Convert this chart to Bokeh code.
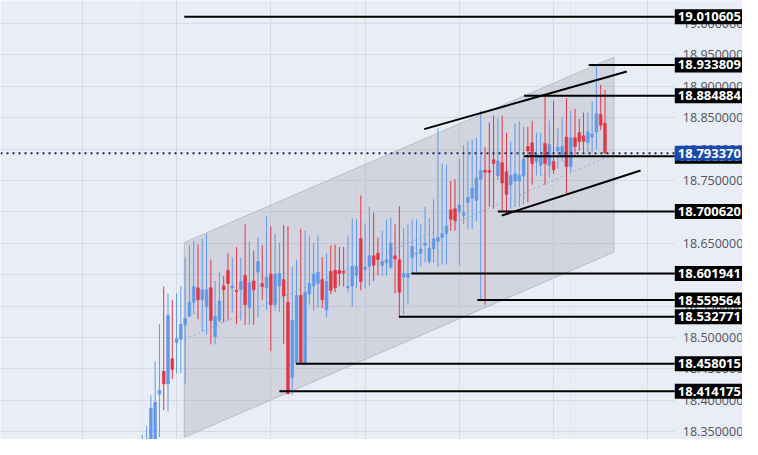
from bokeh.plotting import figure
from bokeh.models import (ColumnDataSource, Label, FixedTicker, Range1d, Grid, BoxAnnotation)
from bokeh.core.properties import value
from bokeh.embed import file_html
from bokeh.resources import INLINE

# ---- candle data (index = bar number) ----
opens = [18.318, 18.310, 18.321, 18.333, 18.410, 18.446, 18.426, 18.466, 18.492, 18.497,
         18.520, 18.534, 18.556, 18.579, 18.560, 18.549, 18.579, 18.501, 18.527, 18.582,
         18.607, 18.579, 18.575, 18.576, 18.599, 18.547, 18.590, 18.604, 18.586, 18.579,
         18.601, 18.552, 18.582, 18.592, 18.556, 18.436, 18.459, 18.567, 18.458, 18.569,
         18.582, 18.586, 18.592, 18.544, 18.605, 18.607, 18.607, 18.605, 18.579, 18.582,
         18.599, 18.657, 18.608, 18.613, 18.630, 18.634, 18.615, 18.619, 18.612, 18.630,
         18.624, 18.596, 18.596, 18.627, 18.633, 18.634, 18.647, 18.621, 18.641, 18.653,
         18.659, 18.665, 18.703, 18.705, 18.700, 18.694, 18.715, 18.722, 18.718, 18.752,
         18.766, 18.766, 18.783, 18.758, 18.778, 18.764, 18.743, 18.749, 18.749, 18.757,
         18.804, 18.810, 18.780, 18.774, 18.809, 18.774, 18.780, 18.797, 18.789, 18.819,
         18.772, 18.818, 18.826, 18.821, 18.810, 18.819, 18.827, 18.855, 18.841]
highs = [18.345, 18.359, 18.408, 18.462, 18.521, 18.581, 18.570, 18.560, 18.570, 18.582,
         18.627, 18.647, 18.654, 18.648, 18.657, 18.665, 18.624, 18.590, 18.604, 18.598,
         18.634, 18.627, 18.644, 18.627, 18.680, 18.653, 18.638, 18.659, 18.647, 18.693,
         18.677, 18.665, 18.651, 18.679, 18.677, 18.612, 18.624, 18.673, 18.670, 18.662,
         18.651, 18.662, 18.628, 18.634, 18.647, 18.648, 18.644, 18.644, 18.662, 18.690,
         18.688, 18.726, 18.682, 18.708, 18.699, 18.659, 18.670, 18.688, 18.691, 18.680,
         18.709, 18.674, 18.680, 18.688, 18.688, 18.680, 18.708, 18.690, 18.720, 18.833,
         18.777, 18.775, 18.749, 18.752, 18.784, 18.806, 18.813, 18.815, 18.818, 18.861,
         18.803, 18.842, 18.853, 18.850, 18.853, 18.826, 18.812, 18.841, 18.844, 18.835,
         18.835, 18.845, 18.826, 18.826, 18.885, 18.845, 18.877, 18.833, 18.850, 18.881,
         18.861, 18.864, 18.848, 18.858, 18.858, 18.876, 18.934, 18.902, 18.894]
lows = [18.303, 18.295, 18.315, 18.321, 18.341, 18.384, 18.382, 18.434, 18.443, 18.443,
        18.425, 18.532, 18.537, 18.529, 18.509, 18.504, 18.489, 18.489, 18.524, 18.524,
        18.527, 18.540, 18.521, 18.527, 18.520, 18.520, 18.520, 18.532, 18.560, 18.544,
        18.478, 18.543, 18.540, 18.489, 18.410, 18.408, 18.456, 18.458, 18.456, 18.552,
        18.543, 18.547, 18.547, 18.532, 18.569, 18.572, 18.582, 18.581, 18.572, 18.549,
        18.578, 18.575, 18.578, 18.582, 18.590, 18.599, 18.598, 18.598, 18.608, 18.570,
        18.532, 18.537, 18.552, 18.601, 18.601, 18.613, 18.619, 18.616, 18.619, 18.612,
        18.616, 18.616, 18.670, 18.670, 18.615, 18.680, 18.673, 18.673, 18.685, 18.558,
        18.552, 18.708, 18.705, 18.751, 18.700, 18.696, 18.705, 18.708, 18.708, 18.712,
        18.715, 18.743, 18.758, 18.757, 18.743, 18.754, 18.761, 18.769, 18.780, 18.728,
        18.764, 18.787, 18.797, 18.795, 18.795, 18.795, 18.800, 18.830, 18.793]
closes = [18.336, 18.333, 18.387, 18.397, 18.416, 18.426, 18.535, 18.449, 18.498, 18.521,
          18.530, 18.556, 18.581, 18.560, 18.576, 18.576, 18.527, 18.534, 18.558, 18.576,
          18.586, 18.582, 18.573, 18.589, 18.552, 18.587, 18.576, 18.621, 18.581, 18.596,
          18.552, 18.601, 18.602, 18.566, 18.410, 18.527, 18.567, 18.459, 18.572, 18.586,
          18.601, 18.604, 18.560, 18.589, 18.575, 18.579, 18.602, 18.603, 18.581, 18.613,
          18.613, 18.589, 18.612, 18.630, 18.615, 18.624, 18.621, 18.624, 18.650, 18.625,
          18.572, 18.602, 18.602, 18.645, 18.634, 18.641, 18.650, 18.642, 18.657, 18.659,
          18.665, 18.677, 18.688, 18.686, 18.711, 18.699, 18.723, 18.738, 18.754, 18.766,
          18.763, 18.763, 18.777, 18.781, 18.746, 18.728, 18.758, 18.761, 18.758, 18.784,
          18.797, 18.777, 18.792, 18.789, 18.777, 18.807, 18.767, 18.803, 18.804, 18.772,
          18.818, 18.804, 18.812, 18.812, 18.827, 18.824, 18.856, 18.838, 18.79337]

# ---- horizontal levels: price and first bar index ----
level_prices = [19.010605, 18.933809, 18.884884, 18.7885, 18.700620, 18.601941,
                18.559564, 18.532771, 18.458015, 18.414175]
level_start = [9.8, 104.2, 89.1, 89.1, 83.0, 62.8, 78.2, 59.9, 35.9, 32.0]
last_price = 18.793370

# ---- trend lines (bar, price) ----
upper_trend_x = [65.8, 113.1]
upper_trend_y = [18.8317, 18.9234]
lower_trend_x = [83.9, 116.3]
lower_trend_y = [18.6940, 18.7659]

# ---- regression channel ----
chan_x = [9.8, 110.1, 110.1, 9.8]
chan_y = [18.6512, 18.9463, 18.6359, 18.3410]
mid_x = [9.8, 110.1]
mid_y = [18.4968, 18.7919]

# ---- price scale ----
y_ticks = [18.35, 18.40, 18.45, 18.50, 18.55, 18.60, 18.65, 18.70, 18.75,
           18.80, 18.85, 18.90, 18.95, 19.00]
y_tick_labels = ["18.350000", "18.400000", "18.450000", "18.500000", "18.550000",
                 "18.600000", "18.650000", "18.700000", "18.750000", "18.800000",
                 "18.850000", "18.900000", "18.950000", "19.000000"]
x_grid_ticks = [-14, 8, 30, 52, 74, 96, 118]

X_START, SCALE_START, X_END = -33.1, 124.3, 140.1
Y_START, Y_END = 18.3375, 19.0365

BG = "#E9EDF6"
GRID = "#D5DAE6"
UP = "#6199E8"
DOWN = "#E23645"
FONT = "Open Sans"

p = figure(width=742, height=439, output_backend="svg", toolbar_location=None,
           x_range=Range1d(X_START, X_END), y_range=Range1d(Y_START, Y_END),
           x_axis_location=None, y_axis_location=None,
           min_border=0, min_border_left=0, min_border_right=0,
           min_border_top=0, min_border_bottom=0,
           background_fill_color=BG, border_fill_color=BG, outline_line_color=None)

p.add_layout(Grid(dimension=1, ticker=FixedTicker(ticks=y_ticks), grid_line_color=GRID))
p.add_layout(Grid(dimension=0, ticker=FixedTicker(ticks=x_grid_ticks), grid_line_color=GRID))
# price-scale strip (no grid there)
p.add_layout(BoxAnnotation(left=SCALE_START, fill_color=BG, fill_alpha=1.0,
                           line_color=None, level="underlay"))

# channel
p.patch(chan_x, chan_y, fill_color="#9EA0A8", fill_alpha=0.3, line_color="#B9BCC6", line_width=1)
p.line(mid_x, mid_y, line_color="#93AEDC", line_width=1, line_dash="2 3")

# candles
xs = list(range(len(opens)))
colors = [UP if c >= o else DOWN for o, c in zip(opens, closes)]
src = ColumnDataSource(dict(x=xs, o=opens, h=highs, l=lows, c=closes,
                            top=[max(o, c) for o, c in zip(opens, closes)],
                            bot=[min(o, c) for o, c in zip(opens, closes)],
                            color=colors))
p.segment(x0="x", y0="l", x1="x", y1="h", line_color="color", line_width=1, source=src)
p.vbar(x="x", width=0.64, top="top", bottom="bot", fill_color="color",
       line_color="color", line_width=0.6, source=src)

# last-price dotted line
p.segment(x0=[X_START], y0=[last_price], x1=[SCALE_START], y1=[last_price],
          line_color="#1B2656", line_width=2, line_dash="2 4")

# horizontal levels
p.segment(x0=level_start, y0=level_prices, x1=[SCALE_START] * len(level_prices),
          y1=level_prices, line_color="black", line_width=2)

# trend lines
p.line(upper_trend_x, upper_trend_y, line_color="black", line_width=2)
p.line(lower_trend_x, lower_trend_y, line_color="black", line_width=2)

# price scale tick labels
p.text(x=[SCALE_START] * len(y_ticks), y=y_ticks, text=y_tick_labels, x_offset=8,
       text_align="left", text_baseline="middle", text_font=value(FONT),
       text_font_size="12.5px", text_color="#50555f")

# level labels on the price scale
pad = dict(left=3, right=12, top=3, bottom=3)
for price in level_prices:
    p.add_layout(Label(x=SCALE_START, y=price, text=f"{price:.6f}", text_color="white",
                       text_font=FONT, text_font_size="13px", text_font_style="bold",
                       text_align="left", text_baseline="middle",
                       background_fill_color="black", padding=pad))
p.add_layout(Label(x=SCALE_START, y=last_price, text=f"{last_price:.6f}", text_color="white",
                   text_font=FONT, text_font_size="13px", text_font_style="bold",
                   text_align="left", text_baseline="middle",
                   background_fill_color="#1A4AB0", padding=pad))

open("out.html", "w").write(file_html(p, INLINE))
